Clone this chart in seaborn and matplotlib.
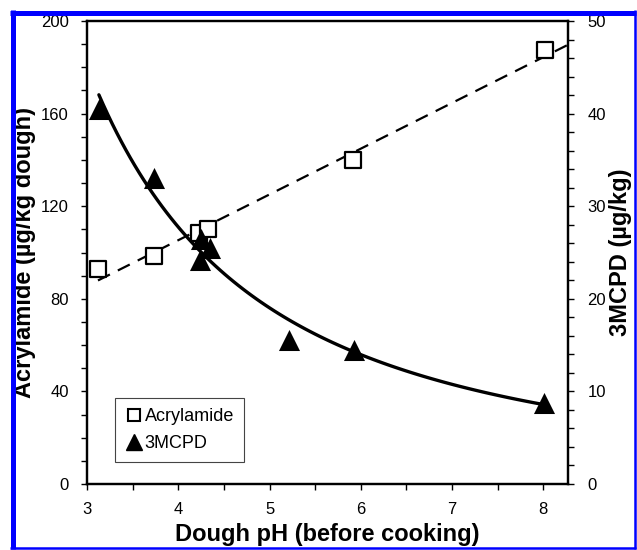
import numpy as np
import matplotlib.pyplot as plt
import seaborn as sns
from matplotlib.lines import Line2D
from matplotlib.ticker import MultipleLocator

# values
ph_acrylamide = [3.12, 3.73, 4.23, 4.33, 5.91, 8.02]
acrylamide = [93.0, 98.5, 108.5, 110.0, 140.0, 187.5]          # µg/kg dough (left axis)
ph_mcpd = [3.13, 3.73, 4.25, 4.24, 4.35, 5.21, 5.92, 8.01]
mcpd = [40.5, 33.0, 26.5, 24.2, 25.5, 15.5, 14.5, 8.8]         # µg/kg (right axis)

sns.set_style('ticks')
plt.rcParams['font.family'] = ['Liberation Sans', 'DejaVu Sans']
plt.rcParams.update({'text.color': 'black', 'axes.labelcolor': 'black',
                     'xtick.color': 'black', 'ytick.color': 'black'})

fig = plt.figure(figsize=(6.37, 5.5), dpi=100)
ax = fig.add_axes([0.1366, 0.12, 0.7551, 0.8418])
ax2 = ax.twinx()

# Excel style trendlines: linear for acrylamide, power for 3MCPD
slope, icpt = np.polyfit(ph_acrylamide, acrylamide, 1)
x_lin = np.linspace(min(ph_acrylamide), 8.27, 50)
b, ln_a = np.polyfit(np.log(ph_mcpd), np.log(mcpd), 1)
x_pow = np.linspace(min(ph_mcpd), max(ph_mcpd), 100)

sns.lineplot(x=x_lin, y=icpt + slope * x_lin, ax=ax, color='black',
             linewidth=1.6, linestyle=(0, (6, 4)), zorder=2)
sns.scatterplot(x=ph_acrylamide, y=acrylamide, ax=ax, marker='s', s=120,
                color='white', edgecolor='black', linewidth=1.6, zorder=3,
                legend=False)

sns.lineplot(x=x_pow, y=np.exp(ln_a) * x_pow ** b, ax=ax2, color='black',
             linewidth=2.4, zorder=2)
sns.scatterplot(x=ph_mcpd, y=mcpd, ax=ax2, marker='^', s=230,
                color='black', edgecolor='black', linewidth=0, zorder=3,
                legend=False)

# axes ranges and ticks
ax.set_xlim(3, 8.27)
ax.set_ylim(0, 200)
ax2.set_ylim(0, 50)
ax.set_xticks(range(3, 9))
ax.xaxis.set_minor_locator(MultipleLocator(0.5))
ax.yaxis.set_major_locator(MultipleLocator(40))
ax.yaxis.set_minor_locator(MultipleLocator(10))
ax2.yaxis.set_major_locator(MultipleLocator(10))
ax2.yaxis.set_minor_locator(MultipleLocator(2))

for a in (ax, ax2):
    for sp in a.spines.values():
        sp.set_linewidth(1.6)
        sp.set_color('black')
ax.tick_params(axis='both', which='major', direction='out', length=4,
               width=1, labelsize=12, pad=9)
ax.tick_params(axis='both', which='minor', direction='out', length=4, width=1)
ax2.tick_params(axis='y', which='major', direction='out', length=4,
                width=1, labelsize=12, pad=10)
ax2.tick_params(axis='y', which='minor', direction='out', length=4, width=1)

# axis titles
ax.set_xlabel('Dough pH (before cooking)', fontsize=17, fontweight='bold',
              va='center')
ax.xaxis.set_label_coords(0.5, -0.108)
ax.set_ylabel('Acrylamide (µg/kg dough)', fontsize=17, fontweight='bold',
              va='center')
ax.yaxis.set_label_coords(-0.129, 0.5)
ax2.set_ylabel('3MCPD (µg/kg)', fontsize=17, fontweight='bold',
               va='center', rotation=90)
ax2.yaxis.set_label_coords(1.110, 0.5)

# legend with markers only
handles = [
    Line2D([], [], marker='s', ls='none', mfc='white', mec='black', mew=1.5,
           ms=9, label='Acrylamide'),
    Line2D([], [], marker='^', ls='none', color='black', ms=11, label='3MCPD'),
]
leg = ax2.legend(handles=handles, loc='lower left', bbox_to_anchor=(0.058, 0.047),
                 frameon=True, fancybox=False, edgecolor='#444444', framealpha=1,
                 fontsize=13, handletextpad=0.1, handlelength=1.0,
                 borderpad=0.55, labelspacing=0.55, borderaxespad=0)
leg.get_frame().set_linewidth(0.8)

# blue frame round the figure
W, H = 637, 550
blue = '#0000FF'
frame = [((12.5, 12.5), (10, 549), 3.6), ((10, 636), (12.5, 12.5), 3.6),
         ((634.5, 634.5), (10, 549), 1.8), ((10, 636), (547.5, 547.5), 1.8)]
for xs, ys, lw in frame:
    fig.add_artist(Line2D([xs[0] / W, xs[1] / W], [1 - ys[0] / H, 1 - ys[1] / H],
                          transform=fig.transFigure, color=blue, lw=lw,
                          solid_capstyle='butt'))

fig.savefig('out.png', dpi=100)
